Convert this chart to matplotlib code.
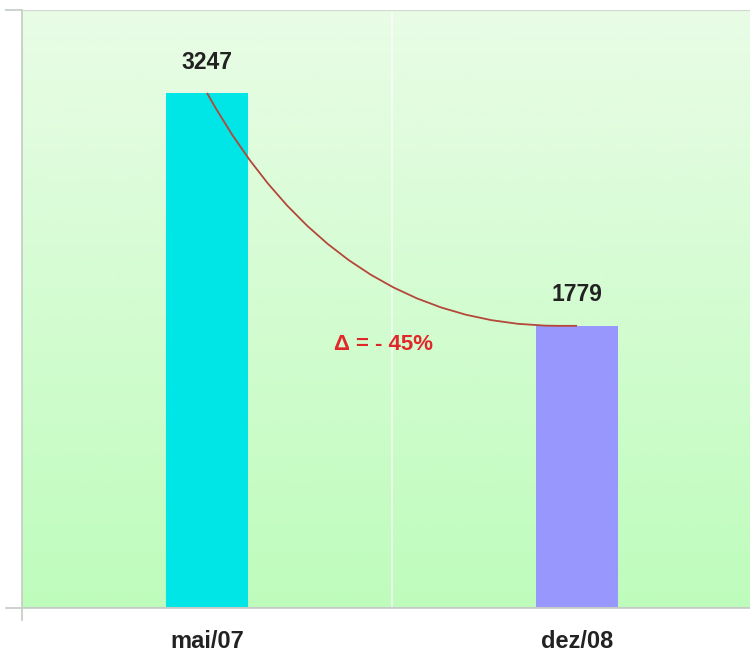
import numpy as np
import matplotlib
matplotlib.use("Agg")
import matplotlib.pyplot as plt
from matplotlib.path import Path
from matplotlib.patches import PathPatch

categories = ["mai/07", "dez/08"]
values = [3247, 1779]
bar_colors = ["#00E5E6", "#9797FD"]
change_label = "\u0394 = - 45%"

plt.rcParams["font.family"] = ["Liberation Sans", "DejaVu Sans"]

fig = plt.figure(figsize=(7.5, 6.52), dpi=100)
ax = fig.add_axes([22 / 750, 44 / 652, 740 / 750, 598 / 652])

ymax = values[0] * 598 / 515
ax.set_xlim(-0.5, 1.5)
ax.set_ylim(0, ymax)

# vertical green gradient behind the bars
top = np.array([233, 252, 230]) / 255
bot = np.array([190, 252, 188]) / 255
t = np.linspace(0, 1, 256)[:, None]
grad = (top * (1 - t) + bot * t)[:, None, :]
ax.imshow(grad, extent=[-0.5, 1.5, 0, ymax], aspect="auto", zorder=0,
          origin="upper", interpolation="bilinear")

# separator between the two categories
ax.axvline(0.5, color="white", lw=1.2, alpha=0.7, zorder=1)

x = np.arange(len(categories))
ax.bar(x, values, width=0.222, color=bar_colors, zorder=2)

for xi, v in zip(x, values):
    ax.annotate(f"{v}", (xi, v), xytext=(0, 14), textcoords="offset points",
                ha="center", va="bottom", fontsize=16.5, fontweight="bold",
                color="#222222", zorder=4)

# decay curve linking the two bar tops
verts = [(x[0], values[0]), (0.35, values[1]), (0.95, values[1]), (1.0, values[1])]
codes = [Path.MOVETO, Path.CURVE3, Path.CURVE3, Path.LINETO]
ax.add_patch(PathPatch(Path(verts, codes), facecolor="none",
                       edgecolor="#b4473a", lw=1.3, zorder=3))

ax.text(0.478, values[1] - 115, change_label, ha="center", va="center",
        fontsize=16, fontweight="bold", color="#e0282a", zorder=4)

ax.set_xticks(x)
ax.set_xticklabels(categories, fontsize=17, fontweight="bold", color="#222222")
ax.set_yticks([0, ymax])
ax.set_yticklabels([])
ax.tick_params(axis="x", length=0, pad=16)
ax.tick_params(axis="y", length=12, color="#c3cbc3", width=1.2)
ax.grid(axis="y", color="#d0d6d0", lw=1.5)
ax.set_axisbelow(False)

for side in ["top", "right"]:
    ax.spines[side].set_visible(False)
for side in ["left", "bottom"]:
    ax.spines[side].set_color("#c3cbc3")
    ax.spines[side].set_linewidth(1.2)
ax.spines["bottom"].set_zorder(5)

# small downward tick at the axis corner
ax.plot([-0.5, -0.5], [0, -ymax * 12 / 598], color="#c3cbc3", lw=1.2,
        clip_on=False, zorder=5)

fig.savefig("out.png", dpi=100, facecolor="white")
